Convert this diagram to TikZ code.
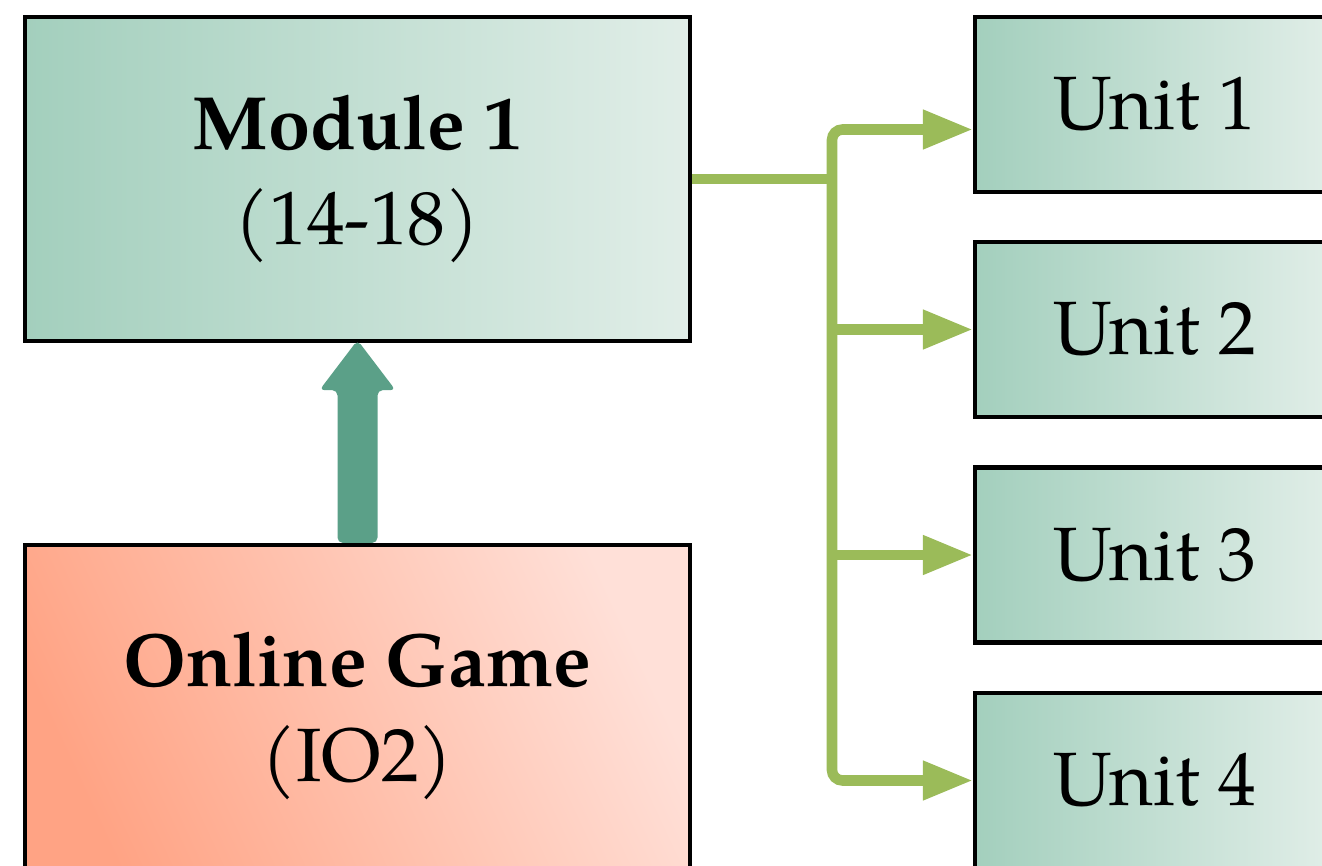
\documentclass[tikz,border=0pt]{standalone}
\usepackage{fontspec}
\setmainfont{TeX Gyre Pagella}
\usetikzlibrary{arrows.meta}
\definecolor{modL}{HTML}{A3CFBD}
\definecolor{modR}{HTML}{E1EEE8}
\definecolor{gameL}{HTML}{FFA384}
\definecolor{gameR}{HTML}{FFE0D8}
\definecolor{upgreen}{HTML}{5BA088}
\definecolor{linkgreen}{HTML}{9BBB59}
\begin{document}
\begin{tikzpicture}[>={Triangle[length=5mm,width=3.7mm]},
  box/.style={draw=black, line width=1.2pt, left color=modL, right color=modR, align=center, font=\fontsize{21.5}{27}\selectfont},
  unitbox/.style={box, minimum width=3.6cm, minimum height=1.75cm},
  link/.style={draw=linkgreen, line width=3pt}]
\useasboundingbox (0,0) rectangle (13.22,8.65);
\node[box, minimum width=6.65cm, minimum height=3.24cm] (mod) at (3.575,6.86) {\textbf{Module 1}\\(14-18)};
\node[box, minimum width=6.65cm, minimum height=3.42cm, left color=gameL, right color=gameR, shading angle=115] (game) at (3.575,1.49) {\textbf{Online Game}\\(IO2)};
\node[unitbox] (u1) at (11.55,7.605) {Unit 1};
\node[unitbox] (u2) at (11.55,5.355) {Unit 2};
\node[unitbox] (u3) at (11.55,3.10) {Unit 3};
\node[unitbox] (u4) at (11.55,0.845) {Unit 4};
% thick arrow up
\fill[upgreen, rounded corners=1.5pt] ([xshift=-2mm]game.north) |- ([xshift=-3.8mm,yshift=-4.7mm]mod.south) -- ([yshift=0.3mm]mod.south) -- ([xshift=3.8mm,yshift=-4.7mm]mod.south) -| ([xshift=2mm]game.north) -- cycle;
% green links
\coordinate (j) at (8.32,6.86);
\draw[link] (mod.east) -- (j);
\draw[link, <->, rounded corners=3pt] ([yshift=-0.25cm]u1.west) -| (j) |- (u4.west);
\draw[link, ->] (j |- u2.west) -- (u2.west);
\draw[link, ->] (j |- u3.west) -- (u3.west);
\end{tikzpicture}
\end{document}
